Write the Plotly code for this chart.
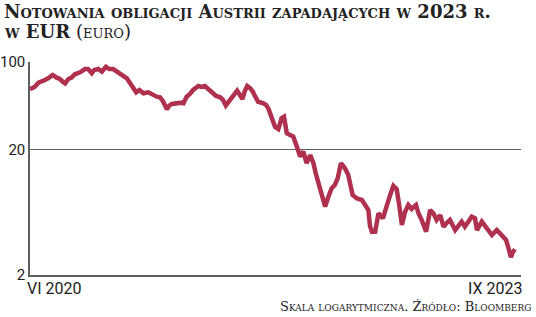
import math
import pandas as pd
import plotly.graph_objects as go

# Days since 1 June 2020
day_offsets = [
    0, 12, 21, 29, 37, 45, 56, 66, 74, 81, 87, 95, 103, 111, 124, 136, 144, 153, 159, 169,
    178, 188, 196, 206, 216, 223, 231, 240, 248, 256, 263, 271, 281, 293, 305, 314, 322, 329,
    339, 344, 351, 359, 367, 376, 380, 388, 396, 404, 417, 424, 433, 441, 450, 461, 471, 478,
    485, 493, 500, 505, 513, 520, 526, 532, 538, 545, 551, 557, 565, 578, 585, 591, 594, 601,
    607, 615, 623, 629, 636, 644, 652, 661, 669, 677, 685, 694, 702, 708, 714, 720, 725, 731,
    739, 747, 755, 762, 770, 780, 788, 794, 799, 809, 822, 830, 838, 842, 847, 855, 863, 874,
    884, 892, 900, 908, 914, 921, 929, 937, 945, 956, 962, 970, 981, 991, 999, 1007, 1016,
    1024, 1032, 1040, 1053, 1061, 1069, 1077, 1086, 1094, 1102, 1107, 1119, 1131, 1144, 1156,
    1168, 1179, 1185, 1191, 1196, 1201,
]

prices_eur = [
    60.6, 63.5, 68.4, 69.7, 71.8, 74.1, 78.8, 75.0, 73.2, 69.7, 67.6, 73.2, 75.0, 79.8, 82.8,
    87.9, 87.9, 81.3, 86.3, 87.9, 83.7, 91.7, 87.9, 87.9, 83.7, 81.3, 78.8, 74.1, 67.6, 61.7,
    57.3, 59.8, 56.3, 57.3, 54.5, 52.9, 52.3, 48.9, 42.0, 44.6, 46.3, 46.7, 47.4, 47.4, 46.9,
    52.9, 55.6, 59.8, 64.4, 63.2, 64.4, 60.9, 56.3, 53.6, 52.3, 49.8, 45.0, 48.9, 51.4, 54.5,
    59.0, 54.5, 50.7, 58.7, 64.4, 62.0, 58.7, 53.6, 48.2, 46.9, 45.4, 42.0, 39.0, 33.9, 30.3,
    29.2, 35.6, 36.6, 27.0, 26.2, 25.4, 21.1, 17.6, 19.3, 15.6, 18.1, 15.6, 12.8, 10.8, 9.36,
    8.18, 7.02, 8.43, 9.84, 10.45, 11.8, 15.6, 14.2, 12.6, 10.3, 8.70, 8.18, 7.93, 7.24, 6.60,
    4.92, 4.41, 4.43, 6.21, 5.67, 7.37, 8.70, 10.3, 9.71, 7.37, 5.01, 6.40, 7.24, 6.73, 7.24,
    6.21, 5.50, 4.43, 6.60, 6.21, 5.50, 6.02, 4.86, 5.20, 5.50, 4.57, 4.92, 5.33, 4.86, 5.40,
    5.84, 5.67, 4.57, 5.33, 4.72, 4.17, 4.57, 4.10, 3.81, 3.27, 2.77, 3.05, 3.21,
]

start_date = "2020-06-01"
end_date = "2023-09-30"
y_ticks = [2, 20, 100]
y_tick_labels = ["2", "20", "100"]
x_labels = ["VI 2020", "IX 2023"]

title_line1 = "<b>Notowania obligacji Austrii zapadających w 2023 r.</b>"
title_line2 = "<b>w EUR</b> (euro)"
footer = "Skala logarytmiczna. Źródło: Bloomberg"

dates = pd.Timestamp(start_date) + pd.to_timedelta(day_offsets, unit="D")

LINE_COLOR = "#b0304f"
GRID = "#5f5f5f"
TEXT = "#222222"
SERIF = "DejaVu Serif, serif"
COND = "Roboto, sans-serif"

fig = go.Figure()
fig.add_trace(go.Scatter(
    x=dates, y=prices_eur, mode="lines",
    line=dict(color=LINE_COLOR, width=4.5),
    hoverinfo="skip", showlegend=False,
))

fig.update_layout(
    width=536, height=317,
    margin=dict(l=30, r=15, t=62, b=42, autoexpand=False),
    paper_bgcolor="white", plot_bgcolor="white",
    xaxis=dict(
        range=[start_date, end_date], showgrid=False, zeroline=False, automargin=False,
        showline=True, linecolor=GRID, linewidth=1.5, showticklabels=False, ticks="",
    ),
    yaxis=dict(
        type="log", range=[math.log10(2), 2], automargin=False,
        tickvals=y_ticks, ticktext=y_tick_labels,
        showgrid=True, gridcolor=GRID, gridwidth=1,
        showline=True, linecolor=GRID, linewidth=1.5, ticks="",
        tickfont=dict(family=COND, size=15, color=TEXT),
    ),
    annotations=[
        dict(text=title_line1, xref="paper", yref="paper", x=0, y=1, xanchor="left", yanchor="top",
             xshift=-28, yshift=63, showarrow=False,
             font=dict(family=SERIF, size=18, color=TEXT, variant="small-caps")),
        dict(text=title_line2, xref="paper", yref="paper", x=0, y=1, xanchor="left", yanchor="top",
             xshift=-28, yshift=43, showarrow=False,
             font=dict(family=SERIF, size=18, color=TEXT, variant="small-caps")),
        dict(text=x_labels[0], xref="paper", yref="paper", x=0, y=0, xanchor="left", yanchor="top",
             xshift=-5, yshift=-2, showarrow=False,
             font=dict(family=COND, size=16, color=TEXT)),
        dict(text=x_labels[1], xref="paper", yref="paper", x=1, y=0, xanchor="right", yanchor="top",
             xshift=3, yshift=-2, showarrow=False,
             font=dict(family=COND, size=16, color=TEXT)),
        dict(text=footer, xref="paper", yref="paper", x=1, y=0, xanchor="right", yanchor="top",
             xshift=12, yshift=-22, showarrow=False,
             font=dict(family=SERIF, size=13, color=TEXT, variant="small-caps")),
    ],
)

fig.write_html("out.html")
